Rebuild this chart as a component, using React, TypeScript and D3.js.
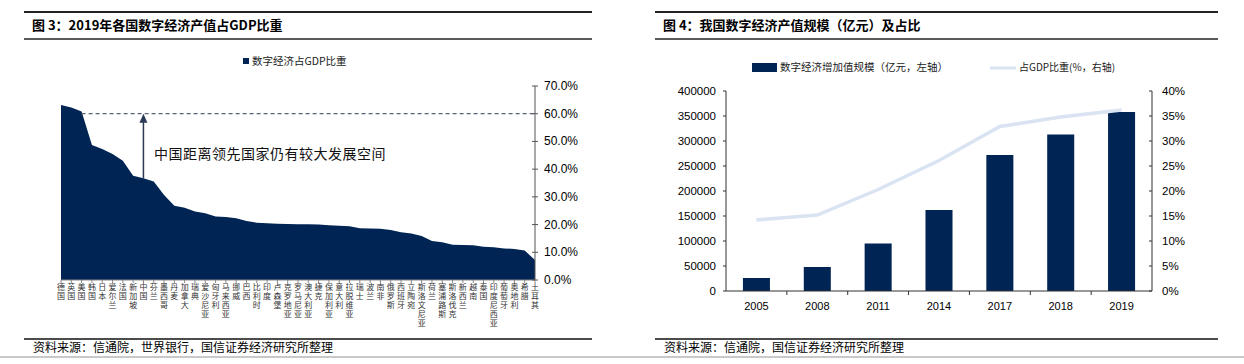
import * as d3 from "d3";

// 图3：各国数字经济占GDP比重（2019）
const countries = [
  "德国", "英国", "美国", "韩国", "日本", "爱尔兰", "法国", "新加坡", "中国", "芬兰",
  "墨西哥", "丹麦", "加拿大", "瑞典", "爱沙尼亚", "匈牙利", "马来西亚", "挪威", "巴西", "比利时",
  "印度", "卢森堡", "克罗地亚", "罗马尼亚", "澳大利亚", "捷克", "保加利亚", "意大利", "拉脱维亚", "瑞士",
  "波兰", "南非", "俄罗斯", "西班牙", "立陶宛", "斯洛文尼亚", "荷兰", "塞浦路斯", "斯洛伐克", "新西兰",
  "越南", "泰国", "印度尼西亚", "葡萄牙", "奥地利", "希腊", "土耳其",
];
const shareGdp = [
  63.1, 62.2, 60.8, 48.7, 47.3, 45.5, 43.0, 37.6, 36.7, 35.5,
  30.7, 26.8, 26.1, 24.7, 24.1, 22.9, 22.7, 22.3, 21.3, 20.7,
  20.5, 20.3, 20.2, 20.1, 20.1, 20.0, 19.8, 19.6, 19.4, 18.7,
  18.6, 18.5, 18.0, 17.2, 16.8, 15.9, 14.1, 13.6, 12.7, 12.6,
  12.5, 12.0, 11.8, 11.4, 11.2, 10.6, 7.2,
];
const leftTicks = [0, 10, 20, 30, 40, 50, 60, 70];

// 图4：我国数字经济规模及占比
const years = ["2005", "2008", "2011", "2014", "2017", "2018", "2019"];
const scale = [26000, 48000, 95000, 162000, 272000, 313000, 358000];
const ratio = [14.2, 15.2, 20.3, 26.1, 32.9, 34.8, 36.2];
const valueTicks = [0, 50000, 100000, 150000, 200000, 250000, 300000, 350000, 400000];
const ratioTicks = [0, 5, 10, 15, 20, 25, 30, 35, 40];

const navy = "#002453";
const lineBlue = "#d9e3f2";
const cjk = "'Noto Sans CJK SC', sans-serif";
const latin = "'Liberation Sans', Arial, sans-serif";

const Header = ({ x0, x1, title }: { x0: number; x1: number; title: string }) => (
  <g>
    <line x1={x0} x2={x1} y1={12} y2={12} stroke="#222" strokeWidth={2} />
    <text x={x0 + 8} y={30} fontFamily={cjk} fontWeight={700} fontSize={13} fill="#000">{title}</text>
    <line x1={x0} x2={x1} y1={39} y2={39} stroke="#222" strokeWidth={1.5} />
  </g>
);

const Footer = ({ x0, x1, text }: { x0: number; x1: number; text: string }) => (
  <g>
    <line x1={x0} x2={x1} y1={339} y2={339} stroke="#111" strokeWidth={1.5} />
    <text x={x0 + 9} y={352} fontFamily={cjk} fontSize={12} fill="#000">{text}</text>
  </g>
);

const LeftChart = () => {
  const x = d3.scalePoint<string>().domain(countries).range([61, 535]);
  const y = d3.scaleLinear().domain([0, 70]).range([280, 86]);
  const area = d3.area<number>()
    .x((_, i) => x(countries[i]) as number)
    .y0(y(0))
    .y1((d) => y(d));
  const cx = x("中国") as number;
  const cv = shareGdp[countries.indexOf("中国")];
  const usX = x("美国") as number;

  return (
    <g>
      {/* 图例 */}
      <rect x={243} y={58} width={6} height={6} fill={navy} />
      <text x={252} y={65} fontFamily={cjk} fontSize={10.5} fill="#222">数字经济占GDP比重</text>

      <path d={area(shareGdp) ?? ""} fill={navy} />

      {/* 60% 参考线和箭头 */}
      <line x1={usX} x2={535} y1={y(60)} y2={y(60)} stroke="#5a6478" strokeWidth={1.2} strokeDasharray="4,3" />
      <line x1={cx} x2={cx} y1={y(cv)} y2={y(60) + 6} stroke="#2b3a55" strokeWidth={1.5} />
      <path d={`M${cx},${y(60)} L${cx - 4},${y(60) + 9} L${cx + 4},${y(60) + 9} Z`} fill="#2b3a55" />
      <text x={154} y={159} fontFamily={cjk} fontSize={14} fill="#111" letterSpacing={0.5}>中国距离领先国家仍有较大发展空间</text>

      {/* x 轴 */}
      <line x1={61} x2={535} y1={280} y2={280} stroke="#888" strokeWidth={1} />
      {countries.map((c) => (
        <g key={c}>
          <line x1={x(c)} x2={x(c)} y1={280} y2={283} stroke="#888" />
          {Array.from(c).map((ch, j) => (
            <text key={j} x={x(c)} y={290 + j * 9} textAnchor="middle" fontFamily={cjk} fontSize={8} fill="#333">{ch}</text>
          ))}
        </g>
      ))}

      {/* 右侧 y 轴 */}
      <line x1={535} x2={535} y1={86} y2={280} stroke="#555" strokeWidth={1} />
      {leftTicks.map((t) => (
        <g key={t}>
          <line x1={532} x2={538} y1={y(t)} y2={y(t)} stroke="#555" />
          <text x={544} y={y(t) + 4} fontFamily={latin} fontSize={12} fill="#000">{t.toFixed(1)}%</text>
        </g>
      ))}
    </g>
  );
};

const RightChart = () => {
  const x = d3.scaleBand<string>().domain(years).range([726, 1152]).paddingInner(0.556).paddingOuter(0.278);
  const yL = d3.scaleLinear().domain([0, 400000]).range([291, 91]);
  const yR = d3.scaleLinear().domain([0, 40]).range([291, 91]);
  const line = d3.line<number>()
    .x((_, i) => (x(years[i]) as number) + x.bandwidth() / 2)
    .y((d) => yR(d));
  const step = x.step();

  return (
    <g>
      {/* 图例 */}
      <rect x={752} y={63} width={25} height={9} fill={navy} />
      <text x={780} y={71} fontFamily={cjk} fontSize={10.5} fill="#222">数字经济增加值规模（亿元，左轴）</text>
      <line x1={990} x2={1016} y1={68} y2={68} stroke={lineBlue} strokeWidth={3} />
      <text x={1019} y={71} fontFamily={cjk} fontSize={10} fill="#222">占GDP比重(%，右轴)</text>

      {years.map((yr, i) => (
        <rect key={yr} x={x(yr)} y={yL(scale[i])} width={x.bandwidth()} height={yL(0) - yL(scale[i])} fill={navy} />
      ))}
      <path d={line(ratio) ?? ""} fill="none" stroke={lineBlue} strokeWidth={3.5} />

      {/* 左轴 */}
      <line x1={726} x2={726} y1={91} y2={291} stroke="#333" />
      {valueTicks.map((t) => (
        <g key={t}>
          <line x1={723} x2={726} y1={yL(t)} y2={yL(t)} stroke="#333" />
          <text x={716} y={yL(t) + 4} textAnchor="end" fontFamily={latin} fontSize={11.5} fill="#000">{t}</text>
        </g>
      ))}

      {/* 右轴 */}
      <line x1={1152} x2={1152} y1={91} y2={291} stroke="#333" />
      {ratioTicks.map((t) => (
        <g key={t}>
          <line x1={1149} x2={1152} y1={yR(t)} y2={yR(t)} stroke="#333" />
          <text x={1162} y={yR(t) + 4} fontFamily={latin} fontSize={11.5} fill="#000">{t}%</text>
        </g>
      ))}

      {/* x 轴 */}
      <line x1={726} x2={1152} y1={291} y2={291} stroke="#333" />
      {years.map((yr, i) => (
        <g key={yr}>
          {i > 0 && <line x1={726 + i * step} x2={726 + i * step} y1={291} y2={295} stroke="#333" />}
          <text x={(x(yr) as number) + x.bandwidth() / 2} y={310} textAnchor="middle" fontFamily={latin} fontSize={11} fill="#000">{yr}</text>
        </g>
      ))}
    </g>
  );
};

const App = () => (
  <svg width={1244} height={364} style={{ position: "absolute", left: 0, top: 0, background: "#fff" }}>
    <Header x0={24} x1={592} title="图 3：2019年各国数字经济产值占GDP比重" />
    <Header x0={655} x1={1218} title="图 4：我国数字经济产值规模（亿元）及占比" />
    <LeftChart />
    <RightChart />
    <Footer x0={24} x1={592} text="资料来源：信通院，世界银行，国信证券经济研究所整理" />
    <Footer x0={655} x1={1218} text="资料来源：信通院，国信证券经济研究所整理" />
    <line x1={0} x2={1244} y1={357} y2={357} stroke="#c9c9c9" strokeWidth={2} />
  </svg>
);

export default App;
